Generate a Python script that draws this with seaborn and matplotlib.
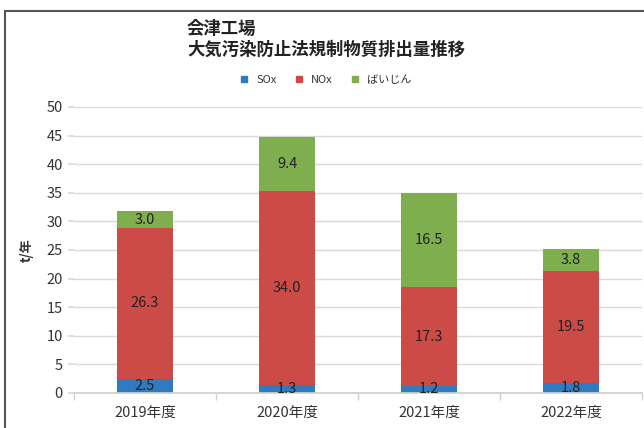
import matplotlib

matplotlib.use("Agg")

import matplotlib.pyplot as plt
import pandas as pd
import seaborn as sns
from matplotlib.lines import Line2D

YEARS = ["2019年度", "2020年度", "2021年度", "2022年度"]
SOX = [2.5, 1.3, 1.2, 1.8]
NOX = [26.3, 34.0, 17.3, 19.5]
DUST = [3.0, 9.4, 16.5, 3.8]
SERIES = ["SOx", "NOx", "ばいじん"]
COLORS = ["#2E7BC0", "#CD4B47", "#7EAE4E"]
YTICKS = list(range(0, 55, 5))


def main() -> None:
    sns.set_theme(style="white")
    plt.rcParams["font.family"] = ["Noto Sans CJK JP", "DejaVu Sans"]

    df = pd.DataFrame({"year": YEARS, "SOx": SOX, "NOx": NOX, "ばいじん": DUST})

    fig = plt.figure(figsize=(6.44, 4.28), dpi=100)
    ax = fig.add_axes([0.115, 0.082, 0.882, 0.668])

    bottom = [0.0] * len(YEARS)
    for name, color in zip(SERIES, COLORS):
        sns.barplot(
            data=df, x="year", y=name, color=color, width=0.4,
            bottom=bottom, saturation=1, linewidth=0, ax=ax,
        )
        bottom = [b + v for b, v in zip(bottom, df[name])]

    for cont, vals in zip(ax.containers, [SOX, NOX, DUST]):
        ax.bar_label(cont, labels=[f"{v:.1f}" for v in vals], label_type="center",
                     fontsize=10.5, color="#222222")

    ax.set_ylim(0, 50)
    ax.set_xlim(-0.5, 3.5)
    ax.set_yticks(YTICKS)
    ax.yaxis.grid(True, color="#D9D9D9", linewidth=1)
    ax.set_axisbelow(True)
    for side in ["top", "right", "left"]:
        ax.spines[side].set_visible(False)
    ax.spines["bottom"].set_color("#D0D0D0")
    ax.set_xticks([-0.5, 0.5, 1.5, 2.5, 3.5], minor=True)
    ax.tick_params(axis="x", which="major", length=0, labelsize=10.5, pad=9, labelcolor="#333333")
    ax.tick_params(axis="x", which="minor", length=5, color="#D0D0D0", bottom=True)
    ax.tick_params(axis="y", length=4, color="#D9D9D9", left=True, labelsize=10.5,
                   pad=4, labelcolor="#333333")
    ax.set_xlabel("")
    ax.set_ylabel("t/年", fontsize=9.5, fontweight="bold", labelpad=9, color="#333333")

    fig.text(187 / 644, 1 - 29 / 428, "会津工場", fontsize=12.5, fontweight="bold",
             va="center", ha="left", color="#222222")
    fig.text(187 / 644, 1 - 50 / 428, "大気汚染防止法規制物質排出量推移", fontsize=12.5,
             fontweight="bold", va="center", ha="left", color="#222222")

    handles = [Line2D([0], [0], marker="s", linestyle="", markersize=5,
                      markerfacecolor=c, markeredgecolor=c, label=n)
               for n, c in zip(SERIES, COLORS)]
    fig.legend(handles=handles, loc="center", bbox_to_anchor=(0.5, 1 - 80 / 428), ncol=3,
               frameon=False, fontsize=8, handletextpad=0.1, columnspacing=1.0,
               labelcolor="#333333")

    fig.add_artist(Line2D([5 / 644, 1.0], [1 - 11 / 428] * 2, transform=fig.transFigure,
                          color="#555555", linewidth=1.5))
    fig.add_artist(Line2D([5 / 644] * 2, [0.0, 1 - 11 / 428], transform=fig.transFigure,
                          color="#555555", linewidth=1.5))

    fig.savefig("out.png", dpi=100, facecolor="white")
    plt.close(fig)


if __name__ == "__main__":
    main()
